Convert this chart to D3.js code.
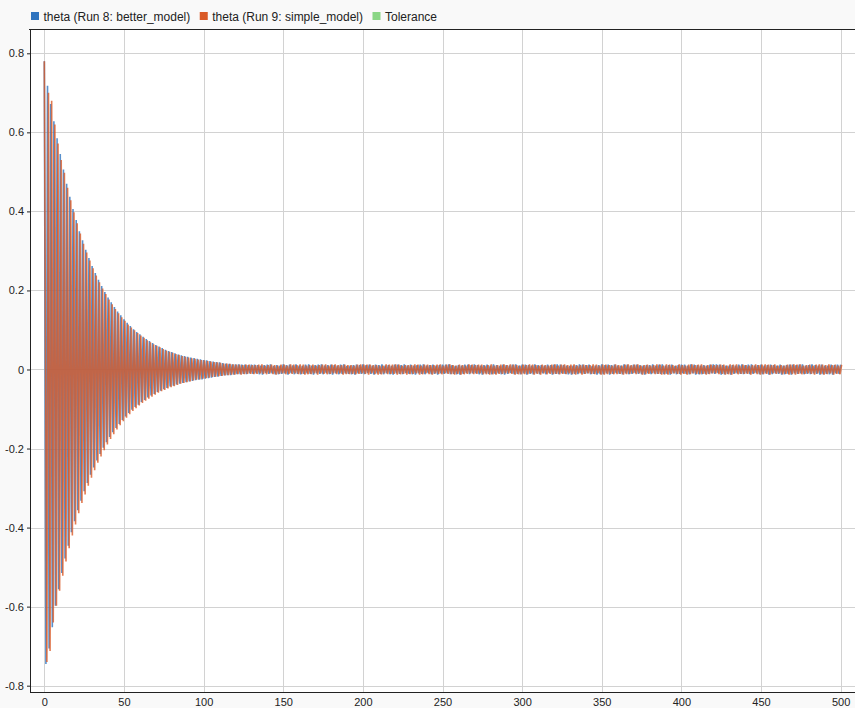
<!DOCTYPE html>
<html>
<head>
<meta charset="utf-8">
<script src="https://cdn.jsdelivr.net/npm/d3@7"></script>
<style>
  html, body { margin: 0; padding: 0; background: #f9f9f9; }
  svg { display: block; font-family: Arial, "Liberation Sans", sans-serif; }
</style>
</head>
<body>
<svg id="chart" width="855" height="708"></svg>
<script>
// ---------------- DATA ----------------
const seriesNames = ["theta (Run 8: better_model)", "theta (Run 9: simple_model)", "Tolerance"];
const xTicks = [0, 50, 100, 150, 200, 250, 300, 350, 400, 450, 500];
const yTicks = [-0.8, -0.6, -0.4, -0.2, 0, 0.2, 0.4, 0.6, 0.8];
const sampleStep = 1;      // time between successive extrema
const simpleLag = 0.6;     // simple_model extrema lag

// better_model extrema, t = 0..110
const betterTransient = [
 .780,-.745,.718,-.706,.672,-.652,.628,-.598,.585,-.556,
 .545,-.515,.506,-.478,.470,-.446,.437,-.412,.406,-.384,
 .378,-.356,.350,-.332,.327,-.308,.303,-.287,.282,-.266,
 .262,-.248,.244,-.230,.227,-.214,.211,-.198,.196,-.184,
 .182,-.171,.170,-.159,.158,-.148,.147,-.138,.137,-.128,
 .127,-.119,.118,-.110,.110,-.102,.102,-.095,.095,-.089,
 .089,-.082,.083,-.077,.077,-.071,.072,-.066,.067,-.062,
 .062,-.057,.058,-.054,.054,-.050,.050,-.047,.047,-.043,
 .044,-.041,.041,-.038,.038,-.036,.036,-.034,.034,-.032,
 .032,-.030,.030,-.029,.029,-.027,.027,-.026,.026,-.025,
 .024,-.023,.023,-.022,.021,-.021,.020,-.019,.019,-.018,
 .018
];
// better_model extrema, t = 111..500
const betterSteady = [
 -.016,.016,-.015,.015,-.014,.014,-.014,.013,-.013,.013,
 -.012,.013,-.012,.012,-.011,.012,-.012,.011,-.010,.012,
 -.011,.012,-.010,.011,-.012,.010,-.013,.011,-.009,.012,
 -.011,.013,-.010,.009,-.012,.011,-.012,.010,-.011,.013,
 -.010,.011,-.013,.012,-.009,.010,-.012,.013,-.011,.010,
 -.012,.009,-.011,.012,-.010,.013,-.011,.010,-.013,.011,
 -.010,.012,-.011,.013,-.012,.010,-.009,.011,-.012,.012,
 -.013,.011,-.010,.010,-.012,.012,-.011,.013,-.010,.009,
 -.011,.010,-.012,.011,-.013,.012,-.010,.011,-.011,.013,
 -.012,.011,-.009,.012,-.011,.010,-.013,.012,-.010,.011,
 -.011,.013,-.012,.010,-.010,.011,-.012,.009,-.013,.012,
 -.010,.012,-.011,.011,-.012,.013,-.009,.010,-.011,.012,
 -.012,.010,-.013,.011,-.010,.012,-.011,.013,-.012,.010,
 -.009,.011,-.012,.012,-.011,.010,-.013,.011,-.010,.012,
 -.011,.012,-.010,.013,-.012,.011,-.011,.009,-.012,.011,
 -.013,.010,-.011,.012,-.009,.012,-.012,.011,-.010,.013,
 -.010,.011,-.012,.010,-.013,.011,-.010,.012,-.011,.010,
 -.012,.013,-.011,.011,-.010,.009,-.012,.012,-.013,.011,
 -.011,.010,-.009,.012,-.012,.013,-.011,.010,-.012,.012,
 -.010,.012,-.013,.011,-.011,.010,-.012,.013,-.010,.011,
 -.012,.011,-.010,.010,-.012,.012,-.009,.011,-.013,.012,
 -.011,.013,-.012,.012,-.010,.011,-.011,.010,-.012,.009,
 -.013,.010,-.011,.011,-.012,.013,-.010,.012,-.011,.011,
 -.010,.012,-.012,.009,-.011,.010,-.013,.011,-.012,.013,
 -.012,.011,-.010,.012,-.013,.011,-.011,.012,-.009,.010,
 -.011,.010,-.012,.013,-.010,.012,-.012,.010,-.011,.012,
 -.009,.012,-.011,.011,-.012,.010,-.013,.011,-.010,.011,
 -.012,.013,-.010,.010,-.011,.012,-.011,.013,-.012,.010,
 -.011,.011,-.013,.012,-.010,.009,-.012,.011,-.011,.012,
 -.010,.012,-.011,.010,-.012,.013,-.010,.012,-.013,.011,
 -.012,.010,-.012,.011,-.011,.010,-.011,.012,-.010,.013,
 -.011,.013,-.009,.012,-.013,.011,-.012,.010,-.011,.010,
 -.013,.011,-.011,.010,-.010,.012,-.011,.013,-.012,.011,
 -.010,.012,-.012,.013,-.011,.010,-.009,.011,-.012,.012,
 -.012,.010,-.010,.011,-.013,.012,-.012,.011,-.010,.010,
 -.011,.012,-.013,.010,-.012,.011,-.011,.012,-.013,.012,
 -.010,.011,-.011,.012,-.010,.013,-.012,.010,-.011,.011,
 -.012,.013,-.010,.011,-.011,.010,-.013,.012,-.012,.010,
 -.011,.010,-.012,.012,-.013,.011,-.010,.012,-.011,.012
];
// simple_model extrema, t = 0..110
const simpleTransient = [
 .780,-.740,.700,-.712,.680,-.640,.620,-.598,.572,-.560,
 .530,-.522,.498,-.486,.460,-.452,.428,-.420,.398,-.392,
 .370,-.364,.344,-.338,.318,-.316,.296,-.294,.276,-.274,
 .256,-.255,.238,-.236,.221,-.220,.205,-.204,.191,-.190,
 .177,-.176,.165,-.164,.153,-.152,.142,-.141,.132,-.131,
 .123,-.122,.114,-.113,.106,-.105,.099,-.098,.092,-.091,
 .086,-.085,.080,-.079,.074,-.074,.069,-.069,.064,-.064,
 .060,-.059,.056,-.055,.052,-.052,.048,-.048,.045,-.045,
 .042,-.042,.039,-.039,.037,-.036,.034,-.034,.032,-.032,
 .030,-.030,.028,-.028,.027,-.026,.025,-.025,.024,-.023,
 .023,-.022,.021,-.021,.020,-.019,.019,-.018,.018,-.017,
 .017
];
// simple_model extrema, t = 111..500
const simpleSteady = [
 -.016,.015,-.015,.015,-.014,.014,-.013,.013,-.013,.012,
 -.012,.012,-.013,.011,-.012,.012,-.011,.012,-.011,.011,
 -.012,.011,-.011,.012,-.010,.013,-.011,.010,-.012,.011,
 -.010,.012,-.012,.011,-.013,.010,-.011,.012,-.010,.012,
 -.012,.010,-.011,.013,-.011,.012,-.010,.011,-.012,.013,
 -.011,.012,-.013,.010,-.012,.011,-.012,.012,-.010,.010,
 -.013,.011,-.010,.012,-.011,.013,-.012,.010,-.011,.012,
 -.010,.013,-.012,.011,-.010,.011,-.013,.012,-.012,.011,
 -.012,.011,-.011,.010,-.012,.012,-.011,.013,-.010,.012,
 -.011,.012,-.013,.012,-.010,.011,-.012,.011,-.013,.010,
 -.012,.010,-.010,.013,-.012,.012,-.011,.012,-.011,.013,
 -.013,.012,-.012,.010,-.011,.011,-.013,.011,-.012,.011,
 -.011,.013,-.010,.012,-.013,.010,-.012,.012,-.010,.012,
 -.012,.011,-.013,.011,-.010,.012,-.011,.013,-.012,.010,
 -.010,.012,-.011,.013,-.012,.011,-.013,.010,-.011,.012,
 -.013,.011,-.012,.010,-.011,.013,-.010,.012,-.012,.011,
 -.011,.012,-.010,.012,-.012,.010,-.012,.011,-.013,.013,
 -.012,.010,-.013,.011,-.011,.012,-.011,.013,-.010,.011,
 -.010,.013,-.011,.012,-.013,.011,-.012,.010,-.012,.012,
 -.012,.011,-.012,.013,-.010,.012,-.013,.011,-.011,.010,
 -.013,.012,-.010,.011,-.012,.010,-.011,.012,-.012,.013,
 -.011,.010,-.012,.012,-.011,.013,-.012,.011,-.010,.012,
 -.012,.013,-.013,.010,-.010,.011,-.013,.012,-.011,.011,
 -.010,.011,-.011,.013,-.012,.012,-.010,.010,-.013,.012,
 -.013,.012,-.012,.011,-.011,.010,-.012,.013,-.012,.011,
 -.011,.010,-.013,.012,-.012,.013,-.011,.011,-.010,.012,
 -.012,.013,-.010,.010,-.013,.011,-.012,.012,-.011,.010,
 -.010,.011,-.012,.013,-.011,.012,-.013,.010,-.012,.013,
 -.013,.012,-.011,.011,-.010,.010,-.011,.013,-.013,.011,
 -.011,.010,-.013,.012,-.012,.013,-.010,.011,-.011,.012,
 -.012,.013,-.011,.010,-.013,.011,-.012,.012,-.010,.011,
 -.010,.011,-.012,.012,-.011,.012,-.013,.010,-.012,.013,
 -.013,.012,-.010,.013,-.012,.010,-.011,.012,-.011,.011,
 -.011,.010,-.013,.011,-.010,.013,-.012,.011,-.013,.012,
 -.012,.013,-.011,.012,-.013,.011,-.010,.013,-.011,.010,
 -.010,.011,-.012,.010,-.011,.012,-.013,.012,-.012,.013,
 -.013,.012,-.011,.013,-.012,.010,-.011,.011,-.010,.012,
 -.011,.010,-.013,.012,-.010,.013,-.012,.012,-.013,.011,
 -.012,.013,-.010,.011,-.013,.012,-.011,.010,-.012,.012
];

// ---------------- LAYOUT / STYLE ----------------
const W = 855, H = 708;
const plot = { left: 30, top: 29, right: 855, bottom: 692 };
const colors = ["#2F74BF", "#D95A27", "#8AD685"];

const svg = d3.select("#chart");

const x = d3.scaleLinear().domain([-9, 509]).range([plot.left, plot.right]);
const y = d3.scaleLinear().domain([-0.816, 0.8615]).range([plot.bottom, plot.top]);

// plot background
svg.append("rect")
  .attr("x", plot.left).attr("y", plot.top)
  .attr("width", plot.right - plot.left).attr("height", plot.bottom - plot.top)
  .attr("fill", "#ffffff");

// grid
const grid = svg.append("g").attr("stroke", "#d2d2d2").attr("stroke-width", 1).attr("shape-rendering", "crispEdges");
grid.selectAll("line.v").data(xTicks).join("line")
  .attr("x1", d => Math.round(x(d)) + 0.5).attr("x2", d => Math.round(x(d)) + 0.5)
  .attr("y1", plot.top).attr("y2", plot.bottom);
grid.selectAll("line.h").data(yTicks).join("line")
  .attr("y1", d => Math.round(y(d)) + 0.5).attr("y2", d => Math.round(y(d)) + 0.5)
  .attr("x1", plot.left).attr("x2", plot.right);

// clip
svg.append("clipPath").attr("id", "clip").append("rect")
  .attr("x", plot.left).attr("y", plot.top)
  .attr("width", plot.right - plot.left).attr("height", plot.bottom - plot.top);

const toPoints = (vals, lag) => vals.map((v, i) => [i * sampleStep + (i > 0 ? lag : 0), v]);
const betterPts = toPoints(betterTransient.concat(betterSteady), 0);
const simplePts = toPoints(simpleTransient.concat(simpleSteady), simpleLag);

const line = d3.line().x(d => x(d[0])).y(d => y(d[1]));
const lines = svg.append("g").attr("clip-path", "url(#clip)");
[[betterPts, colors[0]], [simplePts, colors[1]]].forEach(([pts, c]) => {
  lines.append("path")
    .datum(pts)
    .attr("d", line)
    .attr("fill", "none")
    .attr("stroke", c)
    .attr("stroke-opacity", 0.8)
    .attr("stroke-width", 1.6)
    .attr("stroke-linejoin", "bevel");
});

// axes
const yAxis = d3.axisLeft(y).tickValues(yTicks).tickSize(3).tickPadding(3)
  .tickFormat(d => String(+d.toFixed(1)));
const gy = svg.append("g").attr("transform", `translate(${plot.left},0)`).call(yAxis);
const xAxis = d3.axisBottom(x).tickValues(xTicks).tickSize(0).tickPadding(6)
  .tickFormat(d => String(d));
const gx = svg.append("g").attr("transform", `translate(0,${plot.bottom})`).call(xAxis);
[gx, gy].forEach(g => {
  g.select(".domain").remove();
  g.selectAll("text").attr("fill", "#222").style("font-size", "11px");
  g.selectAll("line").attr("stroke", "#222");
});

// frame lines (top, left, bottom)
const frame = svg.append("g").attr("stroke", "#222").attr("stroke-width", 1).attr("shape-rendering", "crispEdges");
frame.append("line").attr("x1", plot.left - 1).attr("x2", plot.right).attr("y1", plot.top + 0.5).attr("y2", plot.top + 0.5);
frame.append("line").attr("x1", plot.left + 0.5).attr("x2", plot.left + 0.5).attr("y1", plot.top).attr("y2", plot.bottom);
frame.append("line").attr("x1", plot.left).attr("x2", plot.right).attr("y1", plot.bottom + 0.5).attr("y2", plot.bottom + 0.5);

// legend
const legend = svg.append("g");
let lx = 31;
seriesNames.forEach((name, i) => {
  legend.append("rect").attr("x", lx).attr("y", 12).attr("width", 8).attr("height", 8).attr("fill", colors[i]);
  const t = legend.append("text").attr("x", lx + 12.5).attr("y", 20.5)
    .attr("fill", "#222").style("font-size", "12px").text(name);
  lx = lx + 12.5 + t.node().getComputedTextLength() + 9.5;
});
</script>
</body>
</html>
